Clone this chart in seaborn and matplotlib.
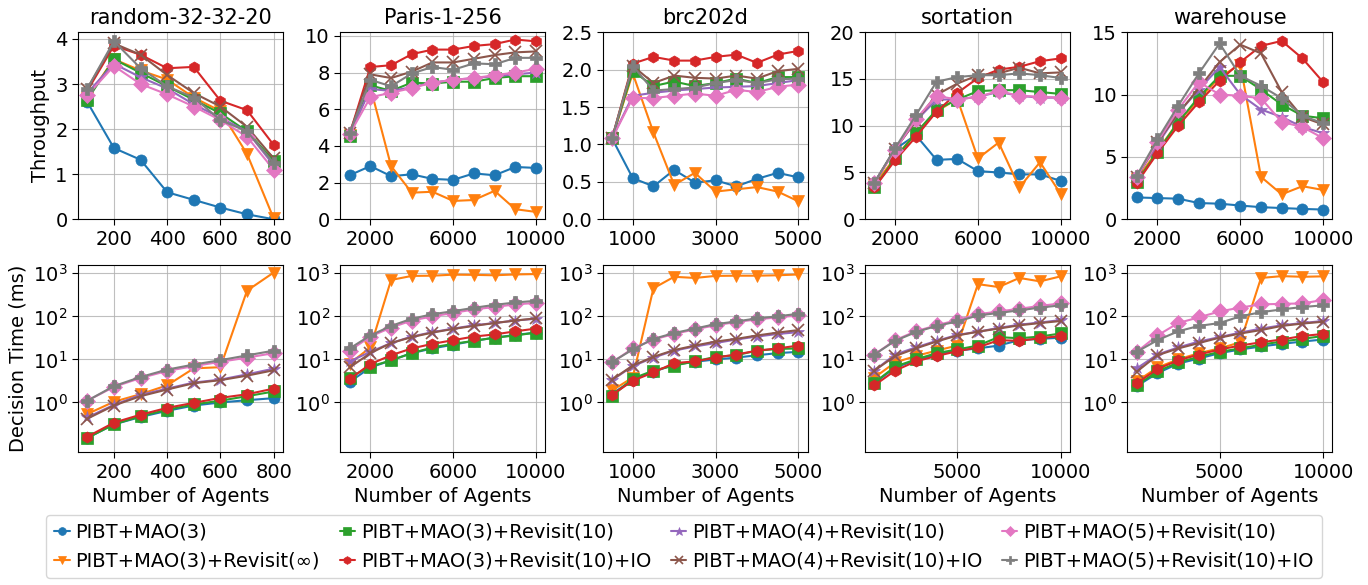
import numpy as np
import pandas as pd
import matplotlib
matplotlib.use("Agg")
import matplotlib.pyplot as plt
import seaborn as sns

# series (legend order)
labels = [
    "PIBT+MAO(3)",
    "PIBT+MAO(3)+Revisit(∞)",
    "PIBT+MAO(3)+Revisit(10)",
    "PIBT+MAO(3)+Revisit(10)+IO",
    "PIBT+MAO(4)+Revisit(10)",
    "PIBT+MAO(4)+Revisit(10)+IO",
    "PIBT+MAO(5)+Revisit(10)",
    "PIBT+MAO(5)+Revisit(10)+IO",
]
markers = ["o", "v", "s", "h", "*", "x", "D", "P"]

maps = ["random-32-32-20", "Paris-1-256", "brc202d", "sortation", "warehouse"]

x_random = [100, 200, 300, 400, 500, 600, 700, 800]
x_paris = [1000, 2000, 3000, 4000, 5000, 6000, 7000, 8000, 9000, 10000]
x_brc = [500, 1000, 1500, 2000, 2500, 3000, 3500, 4000, 4500, 5000]
x_sort = [1000, 2000, 3000, 4000, 5000, 6000, 7000, 8000, 9000, 10000]
x_ware = [1000, 2000, 3000, 4000, 5000, 6000, 7000, 8000, 9000, 10000]

# throughput
thr_random = [
    [2.6, 1.58, 1.32, 0.6, 0.43, 0.26, 0.11, 0.0],
    [2.7, 3.55, 3.3, 3.1, 2.7, 2.4, 1.45, 0.02],
    [2.65, 3.55, 3.25, 2.95, 2.65, 2.35, 1.95, 1.3],
    [2.85, 3.85, 3.65, 3.35, 3.38, 2.63, 2.42, 1.65],
    [2.8, 3.45, 3.15, 2.9, 2.55, 2.25, 1.95, 1.2],
    [2.9, 3.9, 3.65, 3.2, 2.8, 2.5, 2.05, 1.35],
    [2.75, 3.4, 3.0, 2.77, 2.5, 2.2, 1.83, 1.1],
    [2.9, 3.95, 3.35, 2.95, 2.7, 2.2, 1.95, 1.25],
]
thr_paris = [
    [2.4, 2.9, 2.35, 2.45, 2.2, 2.15, 2.5, 2.4, 2.85, 2.8],
    [4.6, 7.2, 2.9, 1.45, 1.5, 1.0, 1.05, 1.55, 0.55, 0.4],
    [4.55, 7.3, 7.0, 7.45, 7.4, 7.5, 7.5, 7.7, 7.8, 7.8],
    [4.65, 8.3, 8.4, 9.0, 9.25, 9.25, 9.45, 9.55, 9.8, 9.7],
    [4.65, 7.1, 7.0, 7.2, 7.45, 7.6, 7.7, 7.8, 7.9, 8.0],
    [4.7, 7.9, 7.7, 8.05, 8.55, 8.55, 8.75, 8.95, 9.1, 9.15],
    [4.65, 6.65, 6.9, 7.15, 7.45, 7.6, 7.7, 7.85, 8.0, 8.2],
    [4.7, 7.6, 7.25, 7.95, 8.3, 8.15, 8.5, 8.45, 8.8, 8.8],
]
thr_brc = [
    [1.08, 0.55, 0.44, 0.66, 0.49, 0.52, 0.44, 0.54, 0.62, 0.56],
    [1.08, 1.95, 1.16, 0.46, 0.62, 0.37, 0.4, 0.43, 0.37, 0.24],
    [1.08, 1.98, 1.78, 1.84, 1.78, 1.82, 1.88, 1.82, 1.9, 1.9],
    [1.08, 2.08, 2.17, 2.12, 2.12, 2.17, 2.2, 2.09, 2.2, 2.25],
    [1.08, 1.65, 1.69, 1.72, 1.74, 1.76, 1.77, 1.78, 1.82, 1.86],
    [1.08, 2.05, 1.82, 1.92, 1.89, 1.88, 1.92, 1.88, 1.98, 2.01],
    [1.08, 1.62, 1.62, 1.65, 1.68, 1.65, 1.73, 1.7, 1.77, 1.8],
    [1.08, 2.05, 1.72, 1.74, 1.76, 1.82, 1.86, 1.82, 1.87, 1.88],
]
thr_sort = [
    [3.9, 7.5, 9.0, 6.35, 6.45, 5.15, 5.0, 4.8, 4.8, 4.1],
    [3.7, 6.6, 9.2, 11.5, 12.9, 6.5, 8.2, 3.4, 6.1, 2.7],
    [3.4, 6.5, 9.2, 11.7, 12.8, 13.7, 13.8, 13.8, 13.6, 13.4],
    [3.4, 6.3, 8.8, 11.5, 13.5, 15.1, 16.0, 16.3, 16.9, 17.2],
    [3.9, 7.5, 10.5, 12.8, 12.8, 13.1, 13.6, 13.2, 13.0, 13.0],
    [3.9, 7.5, 10.5, 13.3, 14.5, 15.4, 15.6, 16.2, 15.6, 15.7],
    [3.9, 7.4, 10.7, 13.2, 12.8, 13.1, 13.7, 13.2, 13.1, 13.0],
    [3.9, 7.6, 11.1, 14.7, 15.2, 15.4, 15.4, 15.6, 15.4, 15.1],
]
thr_ware = [
    [1.75, 1.7, 1.65, 1.3, 1.25, 1.1, 0.97, 0.9, 0.83, 0.78],
    [3.2, 5.5, 7.8, 9.6, 11.4, 12.4, 3.4, 2.0, 2.65, 2.35],
    [3.0, 5.4, 7.8, 9.8, 11.5, 11.5, 10.4, 9.2, 8.3, 8.1],
    [2.9, 5.3, 7.5, 9.4, 11.1, 12.6, 13.9, 14.3, 12.9, 11.0],
    [3.4, 6.0, 8.5, 10.4, 12.2, 10.0, 8.8, 8.2, 7.4, 6.9],
    [3.4, 6.2, 8.5, 10.5, 12.6, 14.0, 13.3, 10.2, 8.2, 7.6],
    [3.4, 6.2, 8.8, 11.0, 10.0, 9.9, 9.7, 7.8, 7.4, 6.5],
    [3.5, 6.4, 9.1, 11.7, 14.1, 11.5, 10.7, 9.7, 8.3, 7.7],
]

# decision time (ms)
dt_random = [
    [0.15, 0.31, 0.46, 0.64, 0.85, 1.0, 1.13, 1.26],
    [0.54, 1.04, 1.56, 2.5, 6.2, 6.6, 395, 1040],
    [0.15, 0.31, 0.48, 0.68, 0.9, 1.1, 1.4, 1.8],
    [0.16, 0.34, 0.52, 0.75, 0.98, 1.28, 1.55, 2.1],
    [0.45, 0.88, 1.5, 2.1, 2.9, 3.4, 4.5, 6.1],
    [0.42, 0.85, 1.4, 2.0, 2.8, 3.3, 4.2, 5.6],
    [1.1, 2.3, 3.7, 5.4, 7.0, 8.8, 11, 14],
    [1.1, 2.4, 3.9, 5.8, 7.6, 9.6, 12.4, 16],
]
dt_paris = [
    [3.0, 6.5, 9.5, 14, 18, 22, 27, 32, 37, 42],
    [8, 19, 700, 870, 880, 930, 920, 900, 940, 960],
    [3.8, 6.8, 9.5, 14, 19, 23, 27, 32, 36, 42],
    [3.5, 7.8, 12.5, 18, 23, 28, 34, 38, 45, 52],
    [9, 15, 24, 34, 43, 52, 62, 70, 80, 88],
    [6.5, 14, 24, 33, 42, 51, 60, 70, 80, 90],
    [16, 34, 55, 80, 100, 120, 145, 165, 190, 205],
    [18, 36, 60, 88, 112, 132, 158, 185, 210, 230],
]
dt_brc = [
    [1.6, 3.3, 5.2, 7.5, 8.8, 10, 11, 12.5, 14, 15],
    [1.9, 3.8, 450, 830, 780, 870, 880, 880, 900, 940],
    [1.4, 3.6, 5.5, 7.2, 9, 11.5, 12.5, 16, 17.5, 18],
    [1.5, 3.2, 5.0, 8.2, 9.0, 11, 13, 16, 18, 21],
    [3.3, 7, 11, 16, 20, 24, 29, 34, 39, 43],
    [3.4, 7.2, 11.5, 16.5, 21, 26, 30, 36, 42, 48],
    [8.5, 18, 29, 39, 50, 62, 74, 85, 95, 105],
    [8.7, 17, 30, 41, 52, 66, 76, 90, 100, 115],
]
dt_sort = [
    [2.8, 6.5, 9.5, 13, 16, 18, 21, 28, 30, 32],
    [3.8, 8.5, 12, 16, 21, 560, 480, 780, 650, 850],
    [2.9, 6.8, 10, 14, 17, 21, 33, 31, 34, 40],
    [2.5, 5.5, 9, 12, 15.5, 19, 28, 27, 31, 35],
    [5.5, 13, 19, 27, 37, 44, 54, 64, 72, 82],
    [5.5, 12, 18, 26, 36, 44, 52, 62, 70, 78],
    [13, 28, 45, 62, 82, 112, 130, 150, 175, 200],
    [13, 27, 43, 60, 76, 105, 120, 138, 160, 180],
]
dt_ware = [
    [2.4, 4.8, 8, 10.5, 14, 17, 20, 23, 26, 29],
    [3.1, 6.5, 10, 14, 18, 25, 780, 860, 830, 850],
    [2.5, 5.3, 8.5, 11.5, 15, 18, 22, 26, 30, 35],
    [2.8, 6, 9.5, 13, 17, 21, 25, 29, 35, 39],
    [6.2, 13, 19, 26, 33, 42, 52, 62, 70, 78],
    [5.2, 12.5, 18, 24, 32, 40, 48, 60, 68, 75],
    [15, 36, 70, 95, 130, 160, 190, 195, 200, 240],
    [15, 28, 45, 60, 70, 100, 125, 145, 165, 180],
]

xs = [x_random, x_paris, x_brc, x_sort, x_ware]
thr = [thr_random, thr_paris, thr_brc, thr_sort, thr_ware]
dts = [dt_random, dt_paris, dt_brc, dt_sort, dt_ware]

top_ylim = [(0, 4.15), (0, 10.2), (0, 2.5), (0, 20), (0, 15)]
top_yticks = [[0, 1, 2, 3, 4], [0, 2, 4, 6, 8, 10], [0, 0.5, 1.0, 1.5, 2.0, 2.5],
              [0, 5, 10, 15, 20], [0, 5, 10, 15]]
top_xticks = [[200, 400, 600, 800], [2000, 6000, 10000], [1000, 3000, 5000],
              [2000, 6000, 10000], [2000, 6000, 10000]]
bot_xticks = [[200, 400, 600, 800], [2000, 6000, 10000], [1000, 3000, 5000],
              [5000, 10000], [5000, 10000]]

sns.set_style("ticks", {"axes.grid": True, "grid.color": "#b0b0b0",
                        "axes.edgecolor": "black"})
plt.rcParams["font.family"] = ["DejaVu Sans"]
plt.rcParams["font.size"] = 14
for k in ["text.color", "axes.labelcolor", "xtick.color", "ytick.color"]:
    plt.rcParams[k] = "black"
palette = sns.color_palette("tab10", 8)

fig, axes = plt.subplots(2, 5, figsize=(13.68, 5.85), dpi=100)
fig.subplots_adjust(left=0.057, right=0.974, top=0.945, bottom=0.227,
                    wspace=0.28, hspace=0.245)

for j in range(5):
    ax_t = axes[0, j]
    ax_b = axes[1, j]
    for i in range(8):
        kw = dict(color=palette[i], marker=markers[i], markersize=8,
                  markeredgewidth=1.2 if markers[i] == "x" else 0.5,
                  markeredgecolor=palette[i], linewidth=1.5, label=labels[i])
        if markers[i] == "*":
            kw["markersize"] = 9
        sns.lineplot(x=xs[j], y=thr[j][i], ax=ax_t, **kw)
        sns.lineplot(x=xs[j], y=dts[j][i], ax=ax_b, **kw)
    ax_t.set_title(maps[j], fontsize=15)
    ax_t.set_ylim(*top_ylim[j])
    ax_t.set_yticks(top_yticks[j])
    ax_t.set_xticks(top_xticks[j])
    ax_b.set_yscale("log")
    ax_b.set_ylim(0.07, 1550)
    ax_b.set_yticks([1, 10, 100, 1000])
    ax_b.yaxis.set_minor_locator(matplotlib.ticker.NullLocator())
    ax_b.set_xticks(bot_xticks[j])
    ax_b.set_xlabel("Number of Agents", fontsize=14)
    for ax in (ax_t, ax_b):
        ax.tick_params(labelsize=14, length=4, color="black")
        ax.grid(True, color="#b0b0b0", linewidth=0.8, alpha=0.8)
        if ax.get_legend() is not None:
            ax.get_legend().remove()
        for s in ax.spines.values():
            s.set_color("black")
    if j == 0:
        ax_t.set_ylabel("Throughput", fontsize=14)
        ax_b.set_ylabel("Decision Time (ms)", fontsize=14)

handles, lbls = axes[0, 0].get_legend_handles_labels()
fig.legend(handles, lbls, loc="lower center", ncol=4, fontsize=14,
           bbox_to_anchor=(0.5, -0.005), handlelength=0.8, handletextpad=0.3,
           columnspacing=1.0, markerscale=0.7, frameon=True)

fig.savefig("out.png", dpi=100)
